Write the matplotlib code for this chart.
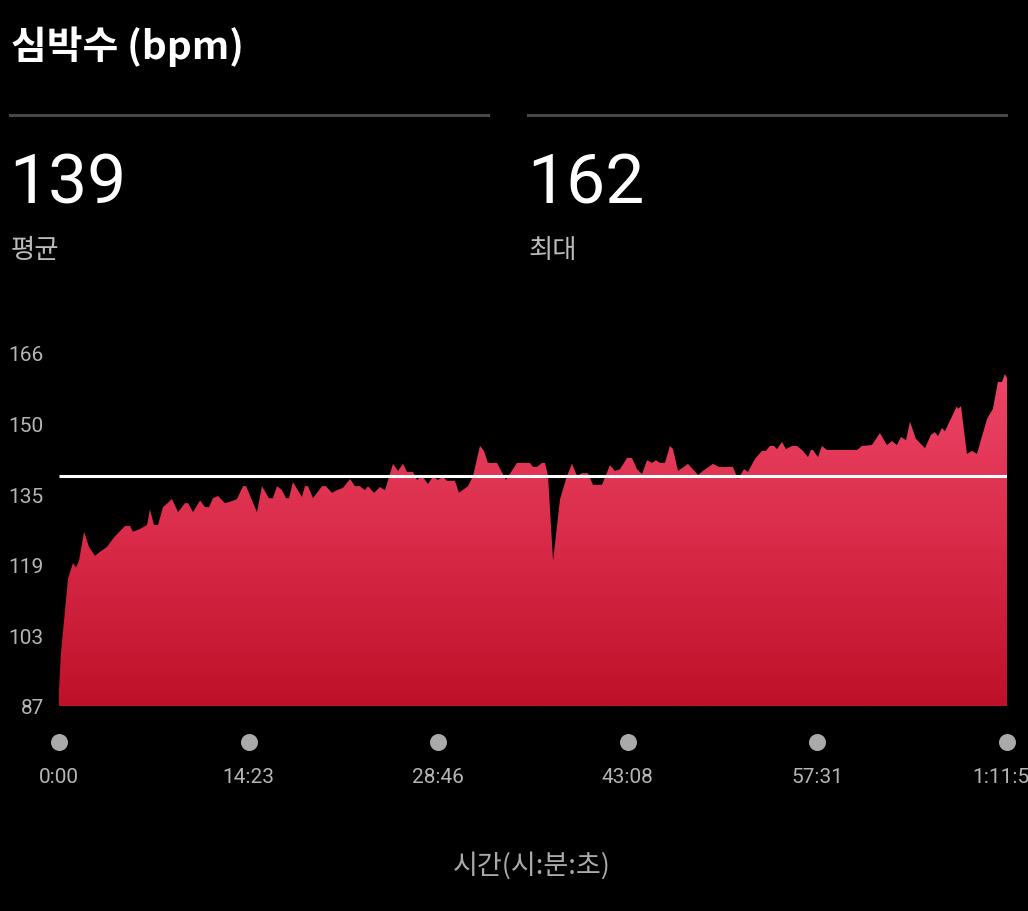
import numpy as np
import matplotlib
matplotlib.use("Agg")
import matplotlib.pyplot as plt
from matplotlib.colors import LinearSegmentedColormap
from matplotlib.transforms import blended_transform_factory

# ---------------- data ----------------
time_min = [0.0, 0.15, 0.38, 0.68, 1.06, 1.29, 1.52, 1.90, 2.28, 2.73, 3.11, 3.64, 4.25, 5.01, 5.39,
            5.61, 6.14, 6.68, 6.90, 7.21, 7.51, 7.89, 8.57, 9.03, 9.56, 9.79, 10.17, 10.70, 11.08,
            11.38, 11.68, 12.06, 12.59, 12.97, 13.50, 13.96, 14.19, 15.02, 15.40, 15.93, 16.23,
            16.54, 16.92, 17.22, 17.45, 17.75, 18.43, 18.66, 18.89, 19.27, 19.95, 20.25, 20.71,
            21.09, 21.54, 22.08, 22.45, 22.83, 23.21, 23.44, 23.90, 24.35, 24.73, 25.34, 25.72,
            26.10, 26.40, 26.85, 27.16, 27.54, 27.99, 28.37, 28.75, 29.13, 29.43, 30.04, 30.34,
            31.03, 31.41, 31.94, 32.24, 32.54, 33.23, 33.91, 34.74, 35.73, 35.96, 36.26, 36.64,
            36.87, 37.10, 37.48, 38.01, 38.54, 38.92, 39.30, 39.68, 40.13, 40.51, 41.19, 41.80,
            42.18, 42.56, 43.09, 43.47, 43.85, 44.23, 44.61, 44.99, 45.29, 45.59, 45.97, 46.35,
            46.58, 46.96, 47.72, 48.48, 48.85, 49.61, 50.07, 51.13, 51.51, 51.97, 52.27, 52.80,
            53.33, 53.63, 53.94, 54.24, 54.47, 54.85, 55.15, 55.61, 55.99, 56.44, 56.82, 57.05,
            57.20, 57.58, 57.88, 58.26, 60.54, 60.92, 61.67, 62.28, 62.81, 63.19, 63.57, 63.88,
            64.26, 64.56, 65.01, 65.70, 66.15, 66.45, 66.68, 66.99, 67.21, 68.12, 68.20, 68.43,
            68.88, 69.26, 69.64, 70.40, 70.85, 71.23, 71.54, 71.76, 71.92]
heart_rate = [90.5, 99, 106, 115.4, 119, 118, 119.5, 126, 122.6, 120.6, 121.5, 122.6, 125, 127.3, 127.3,
              126, 126.6, 127.5, 131, 127.5, 127.5, 131.5, 133.3, 130.4, 132.4, 132.4, 130.4, 133,
              131.5, 131.5, 133.5, 134, 132.4, 132.7, 133.3, 136.2, 136.2, 130.4, 136.2, 133.5, 133.5,
              136.2, 135.3, 133.5, 133.5, 137.1, 133.8, 136.2, 136.2, 133.5, 136.2, 136.2, 134.7,
              135.3, 135.8, 137.8, 136.2, 136.2, 135.3, 136.2, 134.7, 136, 135.3, 141.2, 139.6,
              141.2, 139.4, 139.4, 137.6, 138.5, 136.7, 138.3, 137.6, 138.3, 137.4, 137.4, 134.7,
              136.2, 138.5, 145.2, 144.1, 141.4, 141.4, 137.6, 141.4, 141.4, 140.5, 140.5, 141.4,
              141.4, 138.5, 119.5, 133.3, 138.5, 141.2, 138.5, 139.1, 139.1, 136.5, 136.5, 140.9,
              139.6, 140, 142.5, 142.5, 140, 138.9, 142, 141.4, 142, 141.4, 141.4, 145.2,
              144.5, 139.6, 141.2, 138.7, 139.6, 141.2, 140.5, 140.5, 137.8, 140, 139.4, 142.3,
              144.1, 144.1, 145.2, 145.2, 144.5, 146.1, 144.5, 145.2, 145.2, 144.1, 142.7, 144.3,
              144.3, 142.7, 145.2, 144.3, 144.3, 145.2, 145.4, 148.1, 145.4, 146.3, 145.4, 147.2,
              146.5, 150.6, 146.8, 144.7, 147.7, 148.3, 147.4, 149.2, 148.5, 154.1, 153.5, 154.1,
              143.4, 144.1, 143.4, 151.2, 153.5, 159.5, 159.5, 161.3, 160.4]

avg_bpm = 138.5
y_min, y_max = 87, 166
y_tick_labels = ["87", "103", "119", "135", "150", "166"]
x_tick_labels = ["0:00", "14:23", "28:46", "43:08", "57:31", "1:11:55"]
total_min = 71.92

title = "심박수 (bpm)"
stat_values = ["139", "162"]
stat_names = ["평균", "최대"]
x_label = "시간(시:분:초)"

# ---------------- figure ----------------
W, H = 1028, 912
fig = plt.figure(figsize=(W / 100, H / 100), dpi=100, facecolor="black")

def fx(px):
    return px / W

def fy(py):
    return 1 - py / H

kfont = ["Noto Sans CJK KR", "DejaVu Sans"]
nfont = ["Roboto", "Noto Sans CJK KR", "DejaVu Sans"]

# header
fig.text(fx(11), fy(47), title, color="white", fontsize=28, fontweight="bold",
         family=kfont, va="center", ha="left")
for x0, x1 in [(10, 488), (528, 1006)]:
    fig.add_artist(plt.Line2D([fx(x0), fx(x1)], [fy(116), fy(116)], color="#484848", lw=2.2,
                              transform=fig.transFigure))
for i, (val, name) in enumerate(zip(stat_values, stat_names)):
    x0 = 9 if i == 0 else 527
    fig.text(fx(x0), fy(185), val, color="white", fontsize=50, fontweight="normal",
             family=nfont, va="center", ha="left")
    fig.text(fx(x0 + 2), fy(251), name, color="#BBBBBB", fontsize=19,
             family=kfont, va="center", ha="left")

# chart axes
left, right, top, bottom = 59, 1007, 354, 707
ax = fig.add_axes([fx(left), fy(bottom), (right - left) / W, (bottom - top) / H])
ax.set_facecolor("black")
ax.set_xlim(0, total_min)
ax.set_ylim(y_min, y_max)
for s in ax.spines.values():
    s.set_visible(False)

t = np.array(time_min)
hr = np.array(heart_rate)
poly = ax.fill_between(t, y_min, hr, color="none", lw=0)
cmap = LinearSegmentedColormap.from_list("hr", ["#BE1028", "#DA2C4A", "#EE4669"])
grad = np.linspace(0, 1, 256).reshape(-1, 1)
im = ax.imshow(grad, cmap=cmap, aspect="auto", origin="lower",
               extent=[0, total_min, y_min, 163], zorder=1)
im.set_clip_path(poly.get_paths()[0], transform=ax.transData)

ax.plot([0, total_min], [avg_bpm, avg_bpm], color="white", lw=2.2, zorder=3, solid_capstyle="butt")

yticks = np.linspace(y_min, y_max, len(y_tick_labels))
ax.set_yticks(yticks)
ax.set_yticklabels(y_tick_labels)
ax.tick_params(axis="y", length=0, pad=11, labelcolor="#B5B5B5", labelsize=15)
for lab in ax.get_yticklabels():
    lab.set_family(nfont)

xticks = np.linspace(0, total_min, len(x_tick_labels))
ax.set_xticks(xticks)
ax.set_xticklabels(x_tick_labels)
ax.tick_params(axis="x", length=0, pad=44, labelcolor="#B5B5B5", labelsize=15)
for lab in ax.get_xticklabels():
    lab.set_family(nfont)

trans = blended_transform_factory(ax.transData, fig.transFigure)
ax.scatter(xticks, [fy(743)] * len(xticks), s=150, color="#AAAAAA", transform=trans,
           clip_on=False, zorder=4, linewidths=0)

fig.text(fx(532), fy(866), x_label, color="#AAAAAA", fontsize=19.5, family=kfont,
         va="center", ha="center")

fig.savefig("out.png", dpi=100, facecolor="black")
